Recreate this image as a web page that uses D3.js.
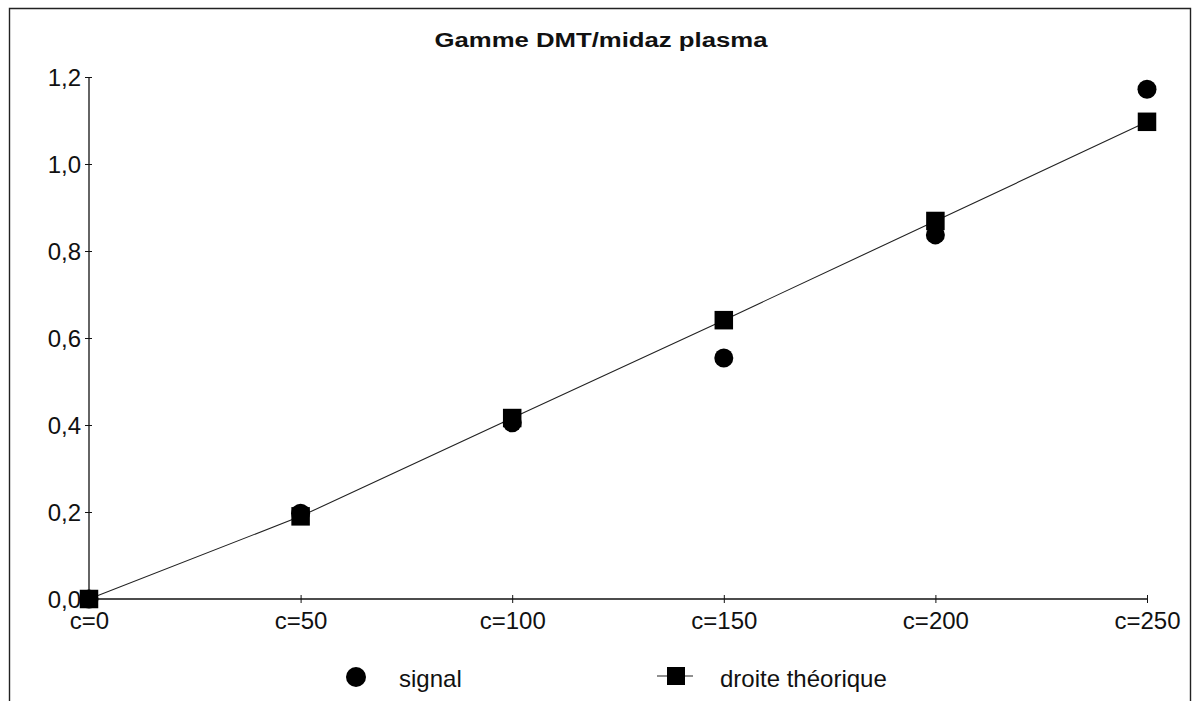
<!DOCTYPE html>
<html>
<head>
<meta charset="utf-8">
<script src="https://cdn.jsdelivr.net/npm/d3@7"></script>
<style>
  html, body { margin: 0; padding: 0; background: #fff; }
  svg { display: block; }
  text { font-family: "Liberation Sans", Arial, Helvetica, sans-serif; fill: #111; }
</style>
</head>
<body>
<svg id="chart" width="1197" height="701"></svg>
<script>
const title = "Gamme DMT/midaz plasma";
const categories = ["c=0", "c=50", "c=100", "c=150", "c=200", "c=250"];
const signal = [0.0, 0.197, 0.405, 0.554, 0.837, 1.172];
const droite = [0.0, 0.190, 0.416, 0.641, 0.869, 1.097];
const yTicks = [0, 0.2, 0.4, 0.6, 0.8, 1.0, 1.2];
const legendLabels = ["signal", "droite théorique"];

(function () {
const svg = d3.select("#chart");
const W = 1197, H = 701;
const pLeft = 89, pRight = 1147, pTop = 77, pBottom = 599;

// frame
svg.append("path")
  .attr("d", `M9.5,${H + 5} L9.5,8.5 L1190.5,8.5 L1190.5,${H + 5}`)
  .attr("fill", "none").attr("stroke", "#222").attr("stroke-width", 1.4);

// title
svg.append("text")
  .attr("x", 601).attr("y", 47)
  .attr("text-anchor", "middle")
  .attr("font-size", 20).attr("font-weight", "bold")
  .attr("textLength", 333).attr("lengthAdjust", "spacingAndGlyphs")
  .text(title);

const x = d3.scalePoint().domain(categories).range([pLeft, pRight]);
const y = d3.scaleLinear().domain([0, 1.2]).range([pBottom, pTop]);
const fmt = v => d3.format(".1f")(v).replace(".", ",");

// y axis
const yAxis = svg.append("g").attr("transform", `translate(${pLeft},0)`)
  .call(d3.axisLeft(y).tickValues(yTicks).tickFormat(fmt).tickSize(4).tickPadding(4));
yAxis.select(".domain").attr("stroke", "#111").attr("stroke-width", 1.3).attr("d", `M0,${pTop}V${pBottom}`);
yAxis.selectAll(".tick line").attr("x1", 3).attr("x2", -4).attr("stroke", "#111");
yAxis.selectAll(".tick text").attr("font-size", 24).attr("font-family", "Liberation Sans, Arial, sans-serif").attr("fill", "#111").attr("dy", "0.36em");

// x axis
const xAxis = svg.append("g").attr("transform", `translate(0,${pBottom})`)
  .call(d3.axisBottom(x).tickSize(4).tickPadding(9));
xAxis.select(".domain").attr("stroke", "#111").attr("stroke-width", 1.3).attr("d", `M${pLeft},0H${pRight}`);
xAxis.selectAll(".tick line").attr("y1", -4).attr("y2", 4).attr("stroke", "#111");
xAxis.selectAll(".tick text").attr("font-size", 24).attr("font-family", "Liberation Sans, Arial, sans-serif").attr("fill", "#111");

// theoretical line
const line = d3.line().x((d, i) => x(categories[i])).y(d => y(d));
svg.append("path").datum(droite)
  .attr("d", line).attr("fill", "none").attr("stroke", "#222").attr("stroke-width", 1.1);

// squares
const sq = 18.5;
svg.selectAll("rect.sq").data(droite).enter().append("rect")
  .attr("x", (d, i) => x(categories[i]) - sq / 2)
  .attr("y", d => y(d) - sq / 2)
  .attr("width", sq).attr("height", sq).attr("fill", "#000");

// circles
svg.selectAll("circle.sig").data(signal).enter().append("circle")
  .attr("cx", (d, i) => x(categories[i]))
  .attr("cy", d => y(d))
  .attr("r", 9.5).attr("fill", "#000");

// legend
const ly = 677;
svg.append("circle").attr("cx", 356).attr("cy", ly).attr("r", 10).attr("fill", "#000");
svg.append("text").attr("x", 399).attr("y", ly + 10).attr("font-size", 24).text(legendLabels[0]);
svg.append("line").attr("x1", 657).attr("x2", 693).attr("y1", ly - 1).attr("y2", ly - 1)
  .attr("stroke", "#222").attr("stroke-width", 1.2);
svg.append("rect").attr("x", 667).attr("y", ly - 10).attr("width", 18).attr("height", 18).attr("fill", "#000");
svg.append("text").attr("x", 720).attr("y", ly + 10).attr("font-size", 24).text(legendLabels[1]);
})();
</script>
</body>
</html>
